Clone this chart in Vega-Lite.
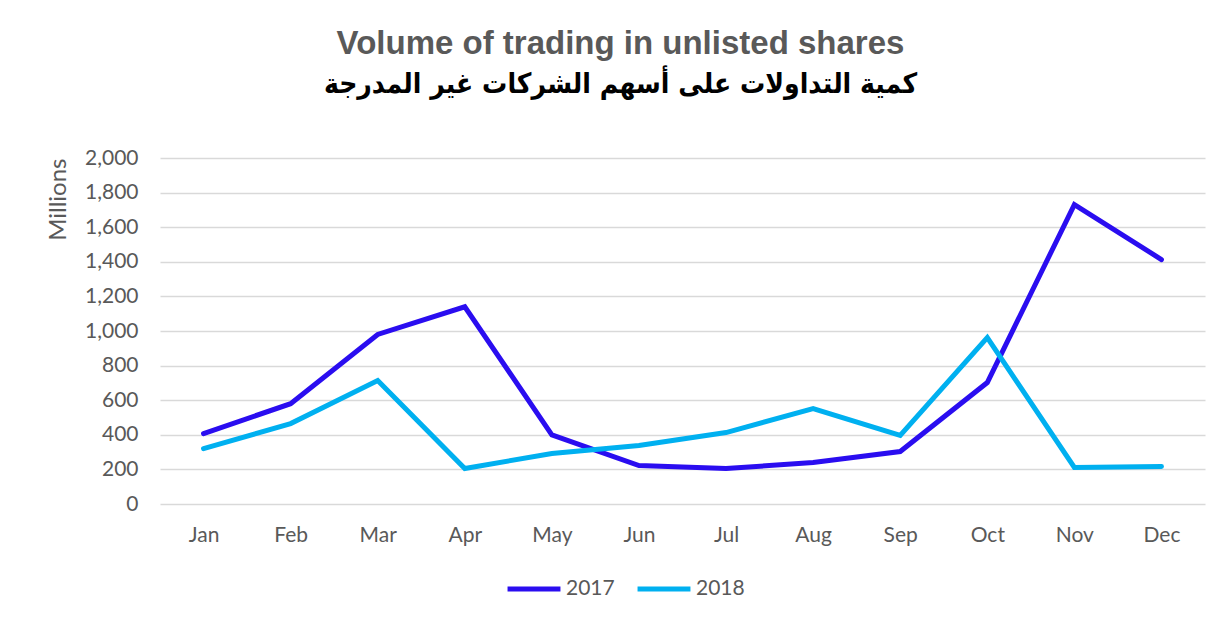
{
  "$schema": "https://vega.github.io/schema/vega-lite/v6.json",
  "width": 1045,
  "height": 346,
  "autosize": {"type": "none"},
  "padding": {"left": 160, "top": 158, "right": 20, "bottom": 121},
  "background": "white",
  "title": {
    "text": "Volume of trading in unlisted shares",
    "subtitle": "كمية التداولات على أسهم الشركات غير المدرجة",
    "anchor": "middle",
    "frame": "group",
    "dx": -62,
    "offset": 48,
    "font": "Liberation Sans",
    "fontSize": 33,
    "fontWeight": "bold",
    "color": "#595959",
    "subtitleFont": "DejaVu Sans Condensed",
    "subtitleFontSize": 28,
    "subtitleFontWeight": "bold",
    "subtitleColor": "#000000",
    "subtitlePadding": 10
  },
  "data": {
    "values": [
      {"month": "Jan", "year": "2017", "value": 407},
      {"month": "Feb", "year": "2017", "value": 580},
      {"month": "Mar", "year": "2017", "value": 980},
      {"month": "Apr", "year": "2017", "value": 1140},
      {"month": "May", "year": "2017", "value": 400},
      {"month": "Jun", "year": "2017", "value": 222},
      {"month": "Jul", "year": "2017", "value": 205},
      {"month": "Aug", "year": "2017", "value": 240},
      {"month": "Sep", "year": "2017", "value": 303},
      {"month": "Oct", "year": "2017", "value": 702},
      {"month": "Nov", "year": "2017", "value": 1731},
      {"month": "Dec", "year": "2017", "value": 1413},
      {"month": "Jan", "year": "2018", "value": 320},
      {"month": "Feb", "year": "2018", "value": 465},
      {"month": "Mar", "year": "2018", "value": 714},
      {"month": "Apr", "year": "2018", "value": 205},
      {"month": "May", "year": "2018", "value": 292},
      {"month": "Jun", "year": "2018", "value": 338},
      {"month": "Jul", "year": "2018", "value": 413},
      {"month": "Aug", "year": "2018", "value": 552},
      {"month": "Sep", "year": "2018", "value": 396},
      {"month": "Oct", "year": "2018", "value": 962},
      {"month": "Nov", "year": "2018", "value": 211},
      {"month": "Dec", "year": "2018", "value": 217}
    ]
  },
  "mark": {"type": "line", "strokeWidth": 5, "strokeCap": "round"},
  "encoding": {
    "x": {
      "field": "month",
      "type": "ordinal",
      "sort": ["Jan","Feb","Mar","Apr","May","Jun","Jul","Aug","Sep","Oct","Nov","Dec"],
      "scale": {"type": "point", "padding": 0.5},
      "axis": {
        "title": null,
        "labelAngle": 0,
        "labelFont": "Lato",
        "labelFontSize": 21,
        "labelColor": "#595959",
        "labelPadding": 20,
        "ticks": false,
        "domain": false,
        "grid": false
      }
    },
    "y": {
      "field": "value",
      "type": "quantitative",
      "scale": {"domain": [0, 2000], "nice": false},
      "axis": {
        "title": "Millions",
        "titleFont": "Lato",
        "titleFontSize": 24,
        "titleFontWeight": "normal",
        "titleColor": "#595959",
        "titleAnchor": "end",
        "titlePadding": 14,
        "values": [0,200,400,600,800,1000,1200,1400,1600,1800,2000],
        "format": ",d",
        "labelFont": "Lato",
        "labelFontSize": 21,
        "labelColor": "#595959",
        "labelPadding": 22,
        "ticks": false,
        "domain": false,
        "grid": true,
        "gridColor": "#d9d9d9",
        "gridWidth": 1.5
      }
    },
    "color": {
      "field": "year",
      "type": "nominal",
      "scale": {"domain": ["2017", "2018"], "range": ["#2A0DF0", "#00B0F0"]},
      "legend": {
        "title": null,
        "orient": "none",
        "legendX": 345,
        "legendY": 402,
        "direction": "horizontal",
        "symbolType": "stroke",
        "symbolSize": 2800,
        "symbolStrokeWidth": 5,
        "labelFont": "Lato",
        "labelFontSize": 21,
        "labelColor": "#595959",
        "labelOffset": 3,
        "columnPadding": 12
      }
    }
  },
  "config": {"view": {"stroke": null}}
}
